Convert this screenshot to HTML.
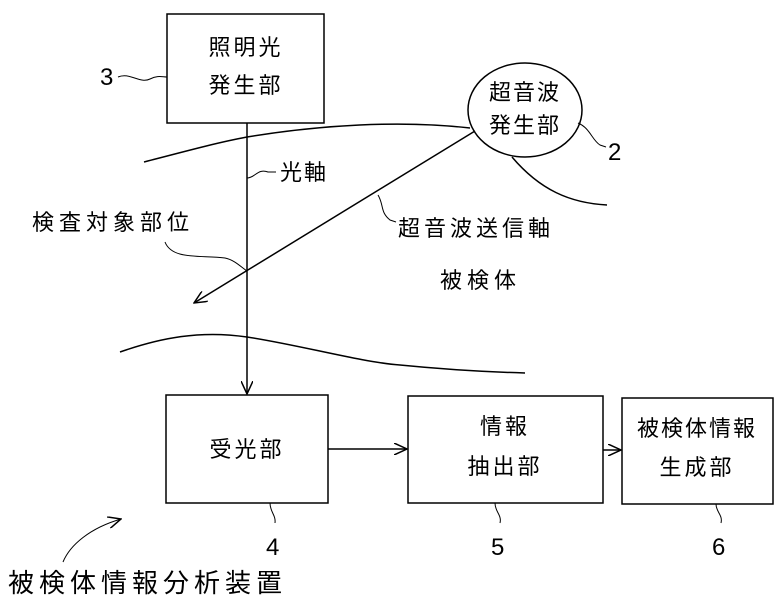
<!DOCTYPE html>
<html><head><meta charset="utf-8"><style>
body{margin:0;background:#fff}
svg text{font-family:"Liberation Sans","Noto Sans CJK JP",sans-serif;fill:#000}
</style></head><body>
<svg width="775" height="607" viewBox="0 0 775 607" xmlns="http://www.w3.org/2000/svg">
<defs><marker id="a" markerWidth="14" markerHeight="12" refX="13" refY="6" orient="auto" markerUnits="userSpaceOnUse"><path d="M0,0 L13,6 L0,12" fill="none" stroke="#000" stroke-width="1.5"/></marker></defs>
<g fill="none" stroke="#000" stroke-width="1.5">
<rect x="167" y="14" width="157" height="109"/>
<ellipse cx="525" cy="110" rx="57" ry="47"/>
<path d="M144,162 C190,150 220,142 247,137 C320,125 400,120 470,128"/>
<path d="M512,157 C540,190 570,203 607,205"/>
<path d="M120,352 C160,338 200,330 247,337 C300,345 360,362 400,365 C450,370 490,372 525,373"/>
<line x1="247" y1="123" x2="247" y2="394" marker-end="url(#a)"/>
<line x1="475" y1="131" x2="194" y2="303" marker-end="url(#a)"/>
<rect x="166" y="395" width="162" height="108"/>
<rect x="408" y="396" width="195" height="107"/>
<rect x="622" y="398" width="151" height="106"/>
<line x1="328" y1="449" x2="407" y2="449" marker-end="url(#a)"/>
<line x1="603" y1="450" x2="621" y2="450" marker-end="url(#a)"/>
<path d="M118,77 C130,72 140,84 150,79 C158,75 162,77 167,77" stroke-width="1"/>
<path d="M578,123 C590,128 592,140 600,145 L606,147" stroke-width="1"/>
<path d="M247,178 C255,178 258,168 268,172 L276,172" stroke-width="1"/>
<path d="M165,242 C172,260 200,255 225,258 C235,260 242,268 247,271" stroke-width="1"/>
<path d="M378,195 C384,205 380,212 390,220 L396,222" stroke-width="1"/>
<path d="M270,503 C270,512 276,515 275,523" stroke-width="1"/>
<path d="M495,503 C495,512 502,515 500,523" stroke-width="1"/>
<path d="M716,504 C716,512 723,515 721,523" stroke-width="1"/>
<path d="M63,562 C70,545 90,528 121,519" stroke-width="1" marker-end="url(#a)"/>
</g>
<g font-size="22">
<text x="246" y="55" text-anchor="middle" letter-spacing="3">照明光</text>
<text x="246" y="93" text-anchor="middle" letter-spacing="3">発生部</text>
<text x="525" y="100" text-anchor="middle" letter-spacing="2">超音波</text>
<text x="525" y="133" text-anchor="middle" letter-spacing="2">発生部</text>
<text x="280" y="180" letter-spacing="2">光軸</text>
<text x="32" y="230" letter-spacing="5">検査対象部位</text>
<text x="398" y="236" letter-spacing="4">超音波送信軸</text>
<text x="440" y="288" letter-spacing="5">被検体</text>
<text x="247" y="457" text-anchor="middle" letter-spacing="3">受光部</text>
<text x="505" y="434" text-anchor="middle" letter-spacing="3">情報</text>
<text x="505" y="474" text-anchor="middle" letter-spacing="3">抽出部</text>
<text x="697" y="436" text-anchor="middle" letter-spacing="2">被検体情報</text>
<text x="697" y="475" text-anchor="middle" letter-spacing="3">生成部</text>
<text x="100" y="85" font-size="24">3</text>
<text x="608" y="160" font-size="24">2</text>
<text x="266" y="555" font-size="24">4</text>
<text x="491" y="555" font-size="24">5</text>
<text x="712" y="555" font-size="24">6</text>
<text x="8" y="592" font-size="26" letter-spacing="5">被検体情報分析装置</text>
</g>
</svg>
</body></html>
